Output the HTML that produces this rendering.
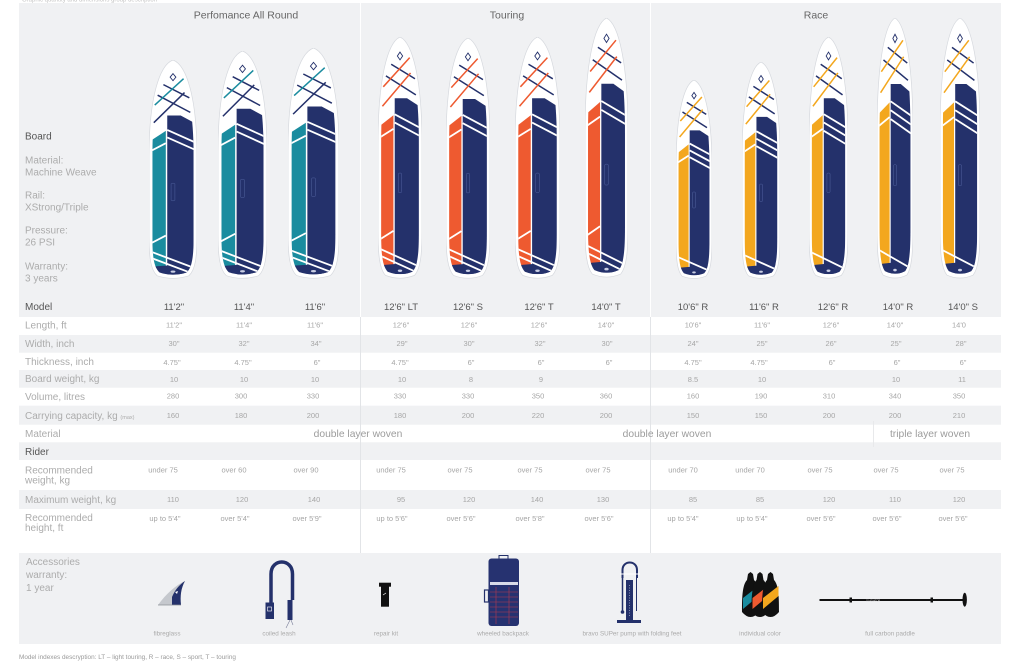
<!DOCTYPE html>
<html><head><meta charset="utf-8"><style>
html,body{margin:0;padding:0;background:#fff;}
svg{display:block;}
text{font-family:"Liberation Sans",Arial,sans-serif;}
</style></head><body>
<svg width="1024" height="668" viewBox="0 0 1024 668" xmlns="http://www.w3.org/2000/svg">
<defs>
<clipPath id="ci" clipPathUnits="userSpaceOnUse"><path d="M50,22 C74,48 93,190 93,440 L93,800 C93,893 90,943 78,966 Q50,986 22,966 C10,943 7,893 7,800 L7,440 C7,190 26,48 50,22 Z"/></clipPath>
<symbol id="bT" viewBox="0 0 100 1000" preserveAspectRatio="none">
<path d="M50,0 C78,22 100,170 100,440 L100,800 C100,900 96,955 83,981 Q50,1004 17,981 C4,955 0,900 0,800 L0,440 C0,170 22,22 50,0 Z" fill="#fff" stroke="#d6d9de" stroke-width="0.7" vector-effect="non-scaling-stroke"/>
<g clip-path="url(#ci)">
<polygon points="0,372 35,322 35,945 0,945" fill="#1a8c9f"/>
<polygon points="38,252 66,252 100,292 100,1000 38,1000" fill="#24316b"/>
<polygon points="0,940 100,925 100,1000 0,1000" fill="#24316b"/>
<g stroke="#fff" stroke-width="1.8">
<line x1="38" y1="318" x2="100" y2="378" vector-effect="non-scaling-stroke"/>
<line x1="38" y1="352" x2="100" y2="412" vector-effect="non-scaling-stroke"/>
<line x1="0" y1="418" x2="35" y2="378" vector-effect="non-scaling-stroke"/>
<line x1="0" y1="838" x2="35" y2="798" vector-effect="non-scaling-stroke"/>
<line x1="5" y1="872" x2="100" y2="950" vector-effect="non-scaling-stroke"/>
<line x1="5" y1="900" x2="100" y2="978" vector-effect="non-scaling-stroke"/>
</g></g>
<g stroke-width="1.5">
<line x1="30" y1="112" x2="84" y2="172" stroke="#24316b" vector-effect="non-scaling-stroke"/>
<line x1="18" y1="160" x2="86" y2="238" stroke="#24316b" vector-effect="non-scaling-stroke"/>
<line x1="12" y1="205" x2="72" y2="85" stroke="#1a8c9f" vector-effect="non-scaling-stroke"/>
<line x1="10" y1="285" x2="74" y2="148" stroke="#24316b" vector-effect="non-scaling-stroke"/>
</g>
<polygon points="50,62 56,78 50,94 44,78" fill="none" stroke="#24316b" stroke-width="0.9" vector-effect="non-scaling-stroke"/>
<rect x="46" y="560" width="8" height="80" rx="3" fill="none" stroke="#51629f" stroke-width="0.5" vector-effect="non-scaling-stroke"/>
<circle cx="50" cy="962" r="5" fill="#c9cee3"/>
</symbol>
<symbol id="bO" viewBox="0 0 100 1000" preserveAspectRatio="none">
<path d="M50,0 C78,22 100,170 100,440 L100,800 C100,900 96,955 83,981 Q50,1004 17,981 C4,955 0,900 0,800 L0,440 C0,170 22,22 50,0 Z" fill="#fff" stroke="#d6d9de" stroke-width="0.7" vector-effect="non-scaling-stroke"/>
<g clip-path="url(#ci)">
<polygon points="0,372 35,322 35,945 0,945" fill="#ee5a30"/>
<polygon points="38,252 66,252 100,292 100,1000 38,1000" fill="#24316b"/>
<polygon points="0,940 100,925 100,1000 0,1000" fill="#24316b"/>
<g stroke="#fff" stroke-width="1.8">
<line x1="38" y1="318" x2="100" y2="378" vector-effect="non-scaling-stroke"/>
<line x1="38" y1="352" x2="100" y2="412" vector-effect="non-scaling-stroke"/>
<line x1="0" y1="418" x2="35" y2="378" vector-effect="non-scaling-stroke"/>
<line x1="0" y1="838" x2="35" y2="798" vector-effect="non-scaling-stroke"/>
<line x1="5" y1="872" x2="100" y2="950" vector-effect="non-scaling-stroke"/>
<line x1="5" y1="900" x2="100" y2="978" vector-effect="non-scaling-stroke"/>
</g></g>
<g stroke-width="1.5">
<line x1="30" y1="112" x2="84" y2="172" stroke="#24316b" vector-effect="non-scaling-stroke"/>
<line x1="18" y1="160" x2="86" y2="238" stroke="#24316b" vector-effect="non-scaling-stroke"/>
<line x1="12" y1="205" x2="72" y2="85" stroke="#ee5a30" vector-effect="non-scaling-stroke"/>
<line x1="10" y1="285" x2="74" y2="148" stroke="#ee5a30" vector-effect="non-scaling-stroke"/>
</g>
<polygon points="50,62 56,78 50,94 44,78" fill="none" stroke="#24316b" stroke-width="0.9" vector-effect="non-scaling-stroke"/>
<rect x="46" y="560" width="8" height="80" rx="3" fill="none" stroke="#51629f" stroke-width="0.5" vector-effect="non-scaling-stroke"/>
<circle cx="50" cy="962" r="5" fill="#c9cee3"/>
</symbol>
<symbol id="bY" viewBox="0 0 100 1000" preserveAspectRatio="none">
<path d="M50,0 C78,22 100,170 100,440 L100,800 C100,900 96,955 83,981 Q50,1004 17,981 C4,955 0,900 0,800 L0,440 C0,170 22,22 50,0 Z" fill="#fff" stroke="#d6d9de" stroke-width="0.7" vector-effect="non-scaling-stroke"/>
<g clip-path="url(#ci)">
<polygon points="0,372 35,322 35,945 0,945" fill="#f3a71e"/>
<polygon points="38,252 66,252 100,292 100,1000 38,1000" fill="#24316b"/>
<polygon points="0,940 100,925 100,1000 0,1000" fill="#24316b"/>
<g stroke="#fff" stroke-width="1.8">
<line x1="38" y1="318" x2="100" y2="378" vector-effect="non-scaling-stroke"/>
<line x1="38" y1="352" x2="100" y2="412" vector-effect="non-scaling-stroke"/>
<line x1="38" y1="386" x2="100" y2="446" vector-effect="non-scaling-stroke"/>
<line x1="0" y1="418" x2="35" y2="378" vector-effect="non-scaling-stroke"/>
<line x1="5" y1="885" x2="100" y2="960" vector-effect="non-scaling-stroke"/>
</g></g>
<g stroke-width="1.5">
<line x1="30" y1="112" x2="84" y2="172" stroke="#24316b" vector-effect="non-scaling-stroke"/>
<line x1="18" y1="160" x2="86" y2="238" stroke="#24316b" vector-effect="non-scaling-stroke"/>
<line x1="12" y1="205" x2="72" y2="85" stroke="#f3a71e" vector-effect="non-scaling-stroke"/>
<line x1="10" y1="285" x2="74" y2="148" stroke="#f3a71e" vector-effect="non-scaling-stroke"/>
</g>
<polygon points="50,62 56,78 50,94 44,78" fill="none" stroke="#24316b" stroke-width="0.9" vector-effect="non-scaling-stroke"/>
<rect x="46" y="560" width="8" height="80" rx="3" fill="none" stroke="#51629f" stroke-width="0.5" vector-effect="non-scaling-stroke"/>
<circle cx="50" cy="962" r="5" fill="#c9cee3"/>
</symbol>
</defs>

<!-- top cut text -->
<text x="22" y="1.5" font-size="6" fill="#c4c4c4">Graphic quantity and dimensions group description</text>

<!-- gray backgrounds -->
<g fill="#f0f1f3">
<rect x="19" y="3" width="982" height="314"/>
<rect x="19" y="335" width="982" height="17.7"/>
<rect x="19" y="370" width="982" height="17.7"/>
<rect x="19" y="405.7" width="982" height="19"/>
<rect x="19" y="442.3" width="982" height="17.7"/>
<rect x="19" y="490" width="982" height="19"/>
<rect x="19" y="553" width="982" height="91"/>
</g>

<!-- dividers -->
<g stroke="#e2e4e7" stroke-width="1">
<line x1="360.5" y1="3" x2="360.5" y2="553"/>
<line x1="650.5" y1="3" x2="650.5" y2="553"/>
<line x1="873.5" y1="421" x2="873.5" y2="447" stroke="#e8e9eb"/>
</g>
<g stroke="#ffffff" stroke-width="1">
<line x1="360.5" y1="3" x2="360.5" y2="317"/>
<line x1="650.5" y1="3" x2="650.5" y2="317"/>
</g>

<!-- section titles -->
<g font-size="10.5" fill="#666" text-anchor="middle">
<text x="246" y="18.5">Perfomance All Round</text>
<text x="507" y="18.5">Touring</text>
<text x="816" y="18.5">Race</text>
</g>

<!-- boards -->
<use href="#bT" x="149" y="60" width="48" height="220"/>
<use href="#bT" x="218" y="51" width="49" height="229"/>
<use href="#bT" x="288" y="48" width="51" height="232"/>
<use href="#bO" x="378" y="37" width="44" height="243"/>
<use href="#bO" x="446" y="38" width="44" height="242"/>
<use href="#bO" x="515" y="37" width="45" height="243"/>
<use href="#bO" x="585" y="18" width="43" height="261"/>
<use href="#bY" x="676" y="80" width="36" height="200"/>
<use href="#bY" x="742" y="62" width="38" height="218"/>
<use href="#bY" x="809" y="37" width="39" height="243"/>
<use href="#bY" x="877" y="18" width="36" height="262"/>
<use href="#bY" x="940" y="18" width="40" height="262"/>

<!-- left labels -->
<g font-size="10" fill="#acacac">
<text x="25" y="139.5" fill="#555">Board</text>
<text x="25" y="163.5">Material:</text>
<text x="25" y="175.5">Machine Weave</text>
<text x="25" y="198.5">Rail:</text>
<text x="25" y="210.5">XStrong/Triple</text>
<text x="25" y="233.5">Pressure:</text>
<text x="25" y="245.5">26 PSI</text>
<text x="25" y="269.5">Warranty:</text>
<text x="25" y="281.5">3 years</text>
<text x="25" y="310.2" fill="#555">Model</text>
<text x="25" y="328.5">Length, ft</text>
<text x="25" y="346.8">Width, inch</text>
<text x="25" y="365.2">Thickness, inch</text>
<text x="25" y="382.2">Board weight, kg</text>
<text x="25" y="400.2">Volume, litres</text>
<text x="25" y="418.8">Carrying capacity, kg <tspan font-size="5.5">(max)</tspan></text>
<text x="25" y="436.8">Material</text>
<text x="25" y="455.2" fill="#555">Rider</text>
<text x="25" y="473.5">Recommended</text>
<text x="25" y="483.5">weight, kg</text>
<text x="25" y="502.8">Maximum weight, kg</text>
<text x="25" y="521.2">Recommended</text>
<text x="25" y="530.8">height, ft</text>
</g>

<!-- model headers -->
<g font-size="9.5" fill="#555" text-anchor="middle">
<text x="174" y="310">11'2"</text>
<text x="244" y="310">11'4"</text>
<text x="315" y="310">11'6"</text>
<text x="401" y="310">12'6" LT</text>
<text x="468" y="310">12'6" S</text>
<text x="539" y="310">12'6" T</text>
<text x="606" y="310">14'0" T</text>
<text x="693" y="310">10'6" R</text>
<text x="764" y="310">11'6" R</text>
<text x="833" y="310">12'6" R</text>
<text x="898" y="310">14'0" R</text>
<text x="963" y="310">14'0" S</text>
</g>

<!-- values -->
<g font-size="7.5" fill="#a6a6a6" text-anchor="middle">
<text x="174" y="327.7">11'2"</text><text x="244" y="327.7">11'4"</text><text x="315" y="327.7">11'6"</text>
<text x="401" y="327.7">12'6"</text><text x="469" y="327.7">12'6"</text><text x="539" y="327.7">12'6"</text><text x="606" y="327.7">14'0"</text>
<text x="693" y="327.7">10'6"</text><text x="762" y="327.7">11'6"</text><text x="831" y="327.7">12'6"</text><text x="895" y="327.7">14'0"</text><text x="959" y="327.7">14'0</text>
<text x="174" y="346.2">30"</text><text x="244" y="346.2">32"</text><text x="316" y="346.2">34"</text>
<text x="402" y="346.2">29"</text><text x="469" y="346.2">30"</text><text x="540" y="346.2">32"</text><text x="607" y="346.2">30"</text>
<text x="693" y="346.2">24"</text><text x="762" y="346.2">25"</text><text x="831" y="346.2">26"</text><text x="896" y="346.2">25"</text><text x="961" y="346.2">28"</text>
<text x="172" y="365.2">4.75"</text><text x="243" y="365.2">4.75"</text><text x="317" y="365.2">6"</text>
<text x="400" y="365.2">4.75"</text><text x="471" y="365.2">6"</text><text x="541" y="365.2">6"</text><text x="609" y="365.2">6"</text>
<text x="693" y="365.2">4.75"</text><text x="759" y="365.2">4.75"</text><text x="832" y="365.2">6"</text><text x="897" y="365.2">6"</text><text x="963" y="365.2">6"</text>
<text x="174" y="382">10</text><text x="244" y="382">10</text><text x="315" y="382">10</text>
<text x="402" y="382">10</text><text x="471" y="382">8</text><text x="541" y="382">9</text>
<text x="693" y="382">8.5</text><text x="762" y="382">10</text><text x="896" y="382">10</text><text x="962" y="382">11</text>
<text x="173" y="398.7">280</text><text x="241" y="398.7">300</text><text x="313" y="398.7">330</text>
<text x="400" y="398.7">330</text><text x="468" y="398.7">330</text><text x="538" y="398.7">350</text><text x="606" y="398.7">360</text>
<text x="693" y="398.7">160</text><text x="761" y="398.7">190</text><text x="829" y="398.7">310</text><text x="895" y="398.7">340</text><text x="959" y="398.7">350</text>
<text x="173" y="418">160</text><text x="241" y="418">180</text><text x="313" y="418">200</text>
<text x="400" y="418">180</text><text x="468" y="418">200</text><text x="538" y="418">220</text><text x="606" y="418">200</text>
<text x="693" y="418">150</text><text x="761" y="418">150</text><text x="829" y="418">200</text><text x="895" y="418">200</text><text x="959" y="418">210</text>
<text x="163" y="472.7">under 75</text><text x="234" y="472.7">over 60</text><text x="306" y="472.7">over 90</text>
<text x="391" y="472.7">under 75</text><text x="460" y="472.7">over 75</text><text x="530" y="472.7">over 75</text><text x="598" y="472.7">over 75</text>
<text x="683" y="472.7">under 70</text><text x="750" y="472.7">under 70</text><text x="820" y="472.7">over 75</text><text x="886" y="472.7">over 75</text><text x="952" y="472.7">over 75</text>
<text x="173" y="502">110</text><text x="242" y="502">120</text><text x="314" y="502">140</text>
<text x="401" y="502">95</text><text x="469" y="502">120</text><text x="537" y="502">140</text><text x="603" y="502">130</text>
<text x="693" y="502">85</text><text x="760" y="502">85</text><text x="829" y="502">120</text><text x="895" y="502">110</text><text x="959" y="502">120</text>
<text x="165" y="521">up to 5'4"</text><text x="235" y="521">over 5'4"</text><text x="307" y="521">over 5'9"</text>
<text x="392" y="521">up to 5'6"</text><text x="461" y="521">over 5'6"</text><text x="530" y="521">over 5'8"</text><text x="599" y="521">over 5'6"</text>
<text x="683" y="521">up to 5'4"</text><text x="752" y="521">up to 5'4"</text><text x="821" y="521">over 5'6"</text><text x="887" y="521">over 5'6"</text><text x="953" y="521">over 5'6"</text>
</g>

<!-- material -->
<g font-size="10.3" fill="#9c9c9c" text-anchor="middle">
<text x="358" y="436.9">double layer woven</text>
<text x="667" y="436.9">double layer woven</text>
<text x="930" y="436.9">triple layer woven</text>
</g>

<!-- accessories -->
<g font-size="10" fill="#acacac">
<text x="26" y="565.2">Accessories</text>
<text x="26" y="577.8">warranty:</text>
<text x="26" y="590.8">1 year</text>
</g>
<g font-size="6.3" fill="#ababab" text-anchor="middle">
<text x="167" y="635.5">fibreglass</text>
<text x="279" y="635.5">coiled leash</text>
<text x="386" y="635.5">repair kit</text>
<text x="503" y="635.5">wheeled backpack</text>
<text x="632" y="635.5">bravo SUPer pump with folding feet</text>
<text x="760" y="635.5">individual color</text>
<text x="890" y="635.5">full carbon paddle</text>
</g>

<!-- fin -->
<path d="M158,605 L181,605 C180,596 181,588 185,581 C176,585 166,594 158,605 Z" fill="#c5c8cd"/>
<path d="M172,605 L181,605 C180,596 181,588 185,581 C179,585 175,590 172,597 Z" fill="#24316b"/>
<path d="M175,592 l3,-1 l-1,3 z" fill="#fff"/>
<line x1="158" y1="605" x2="181" y2="605" stroke="#8d9096" stroke-width="0.8"/>

<!-- leash -->
<path d="M271,604 L271,574 C271,558 292.5,558 292.5,574 L292.5,600" fill="none" stroke="#24316b" stroke-width="3.5"/>
<rect x="265.5" y="602.5" width="8.5" height="16.5" fill="#24316b"/>
<rect x="267.5" y="607" width="4" height="4" fill="none" stroke="#fff" stroke-width="0.6"/>
<rect x="287.5" y="600" width="5" height="20" fill="#24316b"/>
<path d="M290,620 L286,628 M291,620 L293,625" stroke="#7a7f99" stroke-width="0.6" fill="none"/>

<!-- repair kit -->
<rect x="379" y="582.7" width="12" height="4" fill="#111"/>
<rect x="381" y="585" width="8" height="21.7" fill="#111"/>
<path d="M383,595 l3,-2" stroke="#fff" stroke-width="0.7"/>

<!-- backpack -->
<rect x="499" y="555.5" width="9" height="4" fill="none" stroke="#24316b" stroke-width="1"/>
<rect x="484.5" y="590" width="4" height="12" fill="none" stroke="#24316b" stroke-width="1.2"/>
<rect x="488.5" y="558.5" width="30.5" height="67.5" rx="3" fill="#263270"/>
<rect x="490" y="582" width="28" height="3" fill="#d8dbe8"/>
<g stroke="#b3394f" stroke-width="0.6">
<line x1="490" y1="592" x2="518" y2="592"/><line x1="490" y1="597" x2="518" y2="597"/><line x1="490" y1="602" x2="518" y2="602"/><line x1="490" y1="607" x2="518" y2="607"/><line x1="490" y1="612" x2="518" y2="612"/><line x1="490" y1="617" x2="518" y2="617"/>
<line x1="496" y1="587" x2="496" y2="624"/><line x1="509" y1="587" x2="509" y2="624"/>
</g>

<!-- pump -->
<path d="M622.5,578 L622.5,570 C622.5,560 637,560 637,570 L637,578" fill="none" stroke="#24316b" stroke-width="2"/>
<line x1="620" y1="574" x2="640" y2="574" stroke="#fff" stroke-width="1"/>
<line x1="622.5" y1="578" x2="622.5" y2="611" stroke="#24316b" stroke-width="1.5"/>
<circle cx="622.5" cy="612" r="1.8" fill="#24316b"/>
<line x1="636.5" y1="578" x2="636.5" y2="611" stroke="#24316b" stroke-width="1"/>
<rect x="626" y="580" width="7" height="41" fill="#24316b"/>
<line x1="629.5" y1="585" x2="629.5" y2="616" stroke="#c8cbe0" stroke-width="0.6" stroke-dasharray="1,1.5"/>
<rect x="617" y="620" width="24" height="3" fill="#24316b"/>

<!-- individual color paddles -->
<g>
<path d="M750.5,572 L753,574 L754,580 C759,585 759,600 759,612 Q750.5,622 742,612 C742,600 742,585 747,580 L748,574 Z" fill="#111"/>
<polygon points="743,598 758.5,586 758.5,596 743,609" fill="#1a8c9f"/>
<path d="M760,572 L762.5,574 L763.5,580 C768.5,585 768.5,600 768.5,612 Q760,622 751.5,612 C751.5,600 751.5,585 756.5,580 L757.5,574 Z" fill="#111"/>
<polygon points="752.5,598 768,586 768,596 752.5,609" fill="#ee5a30"/>
<path d="M770.5,572 L773,574 L774,580 C779,585 779,600 779,612 Q770.5,622 762,612 C762,600 762,585 767,580 L768,574 Z" fill="#111"/>
<polygon points="763,598 778.5,586 778.5,596 763,609" fill="#f3a71e"/>
</g>

<!-- full carbon paddle -->
<line x1="819.5" y1="600" x2="963" y2="600" stroke="#111" stroke-width="2"/>
<rect x="849.5" y="597.5" width="2.5" height="5" fill="#111"/>
<rect x="930.5" y="597.5" width="2.5" height="5" fill="#111"/>
<ellipse cx="964.7" cy="599.7" rx="2.2" ry="7" fill="#111"/>
<text x="866" y="601.6" font-size="2.5" fill="#ccc">GLADIATOR</text>

<!-- footer -->
<text x="19" y="659" font-size="6.4" fill="#9a9a9a">Model indexes descryption: LT – light touring, R – race, S – sport, T – touring</text>
</svg>
</body></html>
